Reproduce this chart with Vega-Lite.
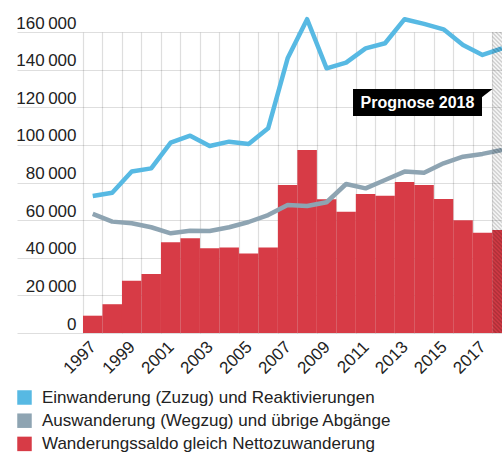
{
  "$schema": "https://vega.github.io/schema/vega-lite/v6.json",
  "width": 419,
  "height": 301,
  "autosize": {"type": "none"},
  "padding": {"left": 83, "top": 32, "right": 0, "bottom": 123},
  "background": "white",
  "config": {
    "view": {"stroke": null},
    "font": "Liberation Sans",
    "axis": {"labelOverlap": false, "title": null, "domain": false, "labelColor": "#222", "labelFontSize": 17, "gridColor": "#000", "gridOpacity": 0.13, "gridWidth": 1.2, "zindex": 1},
    "axisX": {"ticks": false, "labelAngle": -45, "labelAlign": "right", "labelBaseline": "middle", "labelOffset": 10, "labelPadding": 11, "labelFlush": false},
    "axisY": {"ticks": true, "tickSize": 66, "tickColor": "#000", "tickOpacity": 0.13, "tickWidth": 1.2, "labelAlign": "right", "labelBaseline": "alphabetic", "labelPadding": -59, "labelOffset": -4}
  },
  "data": {
    "values": [
      {"Jahr": 1997, "Einwanderung": 72800, "Auswanderung": 63300, "Saldo": 9200},
      {"Jahr": 1998, "Einwanderung": 74600, "Auswanderung": 59200, "Saldo": 15300},
      {"Jahr": 1999, "Einwanderung": 85800, "Auswanderung": 58300, "Saldo": 27800},
      {"Jahr": 2000, "Einwanderung": 87500, "Auswanderung": 56200, "Saldo": 31400},
      {"Jahr": 2001, "Einwanderung": 101200, "Auswanderung": 53000, "Saldo": 48200},
      {"Jahr": 2002, "Einwanderung": 104900, "Auswanderung": 54400, "Saldo": 50300},
      {"Jahr": 2003, "Einwanderung": 99400, "Auswanderung": 54200, "Saldo": 45000},
      {"Jahr": 2004, "Einwanderung": 101700, "Auswanderung": 56200, "Saldo": 45500},
      {"Jahr": 2005, "Einwanderung": 100500, "Auswanderung": 59000, "Saldo": 42200},
      {"Jahr": 2006, "Einwanderung": 108800, "Auswanderung": 62700, "Saldo": 45500},
      {"Jahr": 2007, "Einwanderung": 146000, "Auswanderung": 68000, "Saldo": 78700},
      {"Jahr": 2008, "Einwanderung": 166800, "Auswanderung": 67500, "Saldo": 97300},
      {"Jahr": 2009, "Einwanderung": 140700, "Auswanderung": 69500, "Saldo": 71100},
      {"Jahr": 2010, "Einwanderung": 143700, "Auswanderung": 79200, "Saldo": 64500},
      {"Jahr": 2011, "Einwanderung": 151300, "Auswanderung": 76900, "Saldo": 73900},
      {"Jahr": 2012, "Einwanderung": 154000, "Auswanderung": 81300, "Saldo": 73000},
      {"Jahr": 2013, "Einwanderung": 166800, "Auswanderung": 85800, "Saldo": 80300},
      {"Jahr": 2014, "Einwanderung": 164300, "Auswanderung": 85200, "Saldo": 78700},
      {"Jahr": 2015, "Einwanderung": 161400, "Auswanderung": 90200, "Saldo": 71200},
      {"Jahr": 2016, "Einwanderung": 153100, "Auswanderung": 93700, "Saldo": 59900},
      {"Jahr": 2017, "Einwanderung": 147800, "Auswanderung": 95200, "Saldo": 53300},
      {"Jahr": 2018, "Einwanderung": 151300, "Auswanderung": 97300, "Saldo": 54800}
    ]
  },
  "layer": [
    {
      "mark": {"type": "bar", "width": 19.5, "clip": true},
      "encoding": {
        "x": {
          "field": "Jahr",
          "type": "quantitative",
          "scale": {"domain": [1996.5, 2018], "nice": false, "zero": false, "padding": 0},
          "axis": {
            "values": [1996.5, 1997.5, 1998.5, 1999.5, 2000.5, 2001.5, 2002.5, 2003.5, 2004.5, 2005.5, 2006.5, 2007.5, 2008.5, 2009.5, 2010.5, 2011.5, 2012.5, 2013.5, 2014.5, 2015.5, 2016.5, 2017.5],
            "tickCount": 100,
            "grid": true,
            "labelExpr": "(datum.value + 0.5) % 2 == 1 ? format(datum.value + 0.5, 'd') : ''"
          }
        },
        "y": {
          "field": "Saldo",
          "type": "quantitative",
          "scale": {"domain": [0, 160000], "nice": false, "padding": 0},
          "axis": {
            "values": [0, 20000, 40000, 60000, 80000, 100000, 120000, 140000, 160000],
            "tickCount": 100,
            "grid": true,
            "labelExpr": "replace(format(datum.value, ','), ',', '\u2009')"
          }
        },
        "color": {
          "datum": "Wanderungssaldo gleich Nettozuwanderung",
          "scale": {
            "domain": ["Einwanderung (Zuzug) und Reaktivierungen", "Auswanderung (Wegzug) und übrige Abgänge", "Wanderungssaldo gleich Nettozuwanderung"],
            "range": ["#57b9e3", "#8ea4b2", "#d73b46"]
          },
          "legend": {
            "orient": "none",
            "legendX": -67,
            "legendY": 357,
            "direction": "vertical",
            "title": null,
            "symbolType": "square",
            "symbolSize": 210,
            "symbolStrokeWidth": 0,
            "symbolOpacity": 1,
            "labelFontSize": 17,
            "labelColor": "#222",
            "labelOffset": 9,
            "labelLimit": 0,
            "rowPadding": 5.2,
            "padding": 0
          }
        }
      }
    },
    {
      "mark": {"type": "line", "color": "#8ea4b2", "strokeWidth": 4.5, "strokeJoin": "round"},
      "encoding": {
        "x": {"field": "Jahr", "type": "quantitative"},
        "y": {"field": "Auswanderung", "type": "quantitative"}
      }
    },
    {
      "mark": {"type": "line", "color": "#57b9e3", "strokeWidth": 4.5, "strokeJoin": "round"},
      "encoding": {
        "x": {"field": "Jahr", "type": "quantitative"},
        "y": {"field": "Einwanderung", "type": "quantitative"}
      }
    },
    {
      "data": {"values": [{"Bereich": "Prognose"}]},
      "mark": {
        "type": "rect",
        "clip": true,
        "fill": {
          "gradient": "linear",
          "x1": 0, "y1": 1, "x2": 0.0686, "y2": -0.0603,
          "stops": [
            {"offset": 0, "color": "rgba(0,0,0,.22)"}, {"offset": 0.00625, "color": "rgba(0,0,0,0)"}, {"offset": 0.0125, "color": "rgba(0,0,0,.22)"}, {"offset": 0.01875, "color": "rgba(0,0,0,0)"}, {"offset": 0.025, "color": "rgba(0,0,0,.22)"}, {"offset": 0.03125, "color": "rgba(0,0,0,0)"}, {"offset": 0.0375, "color": "rgba(0,0,0,.22)"}, {"offset": 0.04375, "color": "rgba(0,0,0,0)"},
            {"offset": 0.05, "color": "rgba(0,0,0,.22)"}, {"offset": 0.05625, "color": "rgba(0,0,0,0)"}, {"offset": 0.0625, "color": "rgba(0,0,0,.22)"}, {"offset": 0.06875, "color": "rgba(0,0,0,0)"}, {"offset": 0.075, "color": "rgba(0,0,0,.22)"}, {"offset": 0.08125, "color": "rgba(0,0,0,0)"}, {"offset": 0.0875, "color": "rgba(0,0,0,.22)"}, {"offset": 0.09375, "color": "rgba(0,0,0,0)"},
            {"offset": 0.1, "color": "rgba(0,0,0,.22)"}, {"offset": 0.10625, "color": "rgba(0,0,0,0)"}, {"offset": 0.1125, "color": "rgba(0,0,0,.22)"}, {"offset": 0.11875, "color": "rgba(0,0,0,0)"}, {"offset": 0.125, "color": "rgba(0,0,0,.22)"}, {"offset": 0.13125, "color": "rgba(0,0,0,0)"}, {"offset": 0.1375, "color": "rgba(0,0,0,.22)"}, {"offset": 0.14375, "color": "rgba(0,0,0,0)"},
            {"offset": 0.15, "color": "rgba(0,0,0,.22)"}, {"offset": 0.15625, "color": "rgba(0,0,0,0)"}, {"offset": 0.1625, "color": "rgba(0,0,0,.22)"}, {"offset": 0.16875, "color": "rgba(0,0,0,0)"}, {"offset": 0.175, "color": "rgba(0,0,0,.22)"}, {"offset": 0.18125, "color": "rgba(0,0,0,0)"}, {"offset": 0.1875, "color": "rgba(0,0,0,.22)"}, {"offset": 0.19375, "color": "rgba(0,0,0,0)"},
            {"offset": 0.2, "color": "rgba(0,0,0,.22)"}, {"offset": 0.20625, "color": "rgba(0,0,0,0)"}, {"offset": 0.2125, "color": "rgba(0,0,0,.22)"}, {"offset": 0.21875, "color": "rgba(0,0,0,0)"}, {"offset": 0.225, "color": "rgba(0,0,0,.22)"}, {"offset": 0.23125, "color": "rgba(0,0,0,0)"}, {"offset": 0.2375, "color": "rgba(0,0,0,.22)"}, {"offset": 0.24375, "color": "rgba(0,0,0,0)"},
            {"offset": 0.25, "color": "rgba(0,0,0,.22)"}, {"offset": 0.25625, "color": "rgba(0,0,0,0)"}, {"offset": 0.2625, "color": "rgba(0,0,0,.22)"}, {"offset": 0.26875, "color": "rgba(0,0,0,0)"}, {"offset": 0.275, "color": "rgba(0,0,0,.22)"}, {"offset": 0.28125, "color": "rgba(0,0,0,0)"}, {"offset": 0.2875, "color": "rgba(0,0,0,.22)"}, {"offset": 0.29375, "color": "rgba(0,0,0,0)"},
            {"offset": 0.3, "color": "rgba(0,0,0,.22)"}, {"offset": 0.30625, "color": "rgba(0,0,0,0)"}, {"offset": 0.3125, "color": "rgba(0,0,0,.22)"}, {"offset": 0.31875, "color": "rgba(0,0,0,0)"}, {"offset": 0.325, "color": "rgba(0,0,0,.22)"}, {"offset": 0.33125, "color": "rgba(0,0,0,0)"}, {"offset": 0.3375, "color": "rgba(0,0,0,.22)"}, {"offset": 0.34375, "color": "rgba(0,0,0,0)"},
            {"offset": 0.35, "color": "rgba(0,0,0,.22)"}, {"offset": 0.35625, "color": "rgba(0,0,0,0)"}, {"offset": 0.3625, "color": "rgba(0,0,0,.22)"}, {"offset": 0.36875, "color": "rgba(0,0,0,0)"}, {"offset": 0.375, "color": "rgba(0,0,0,.22)"}, {"offset": 0.38125, "color": "rgba(0,0,0,0)"}, {"offset": 0.3875, "color": "rgba(0,0,0,.22)"}, {"offset": 0.39375, "color": "rgba(0,0,0,0)"},
            {"offset": 0.4, "color": "rgba(0,0,0,.22)"}, {"offset": 0.40625, "color": "rgba(0,0,0,0)"}, {"offset": 0.4125, "color": "rgba(0,0,0,.22)"}, {"offset": 0.41875, "color": "rgba(0,0,0,0)"}, {"offset": 0.425, "color": "rgba(0,0,0,.22)"}, {"offset": 0.43125, "color": "rgba(0,0,0,0)"}, {"offset": 0.4375, "color": "rgba(0,0,0,.22)"}, {"offset": 0.44375, "color": "rgba(0,0,0,0)"},
            {"offset": 0.45, "color": "rgba(0,0,0,.22)"}, {"offset": 0.45625, "color": "rgba(0,0,0,0)"}, {"offset": 0.4625, "color": "rgba(0,0,0,.22)"}, {"offset": 0.46875, "color": "rgba(0,0,0,0)"}, {"offset": 0.475, "color": "rgba(0,0,0,.22)"}, {"offset": 0.48125, "color": "rgba(0,0,0,0)"}, {"offset": 0.4875, "color": "rgba(0,0,0,.22)"}, {"offset": 0.49375, "color": "rgba(0,0,0,0)"},
            {"offset": 0.5, "color": "rgba(0,0,0,.22)"}, {"offset": 0.50625, "color": "rgba(0,0,0,0)"}, {"offset": 0.5125, "color": "rgba(0,0,0,.22)"}, {"offset": 0.51875, "color": "rgba(0,0,0,0)"}, {"offset": 0.525, "color": "rgba(0,0,0,.22)"}, {"offset": 0.53125, "color": "rgba(0,0,0,0)"}, {"offset": 0.5375, "color": "rgba(0,0,0,.22)"}, {"offset": 0.54375, "color": "rgba(0,0,0,0)"},
            {"offset": 0.55, "color": "rgba(0,0,0,.22)"}, {"offset": 0.55625, "color": "rgba(0,0,0,0)"}, {"offset": 0.5625, "color": "rgba(0,0,0,.22)"}, {"offset": 0.56875, "color": "rgba(0,0,0,0)"}, {"offset": 0.575, "color": "rgba(0,0,0,.22)"}, {"offset": 0.58125, "color": "rgba(0,0,0,0)"}, {"offset": 0.5875, "color": "rgba(0,0,0,.22)"}, {"offset": 0.59375, "color": "rgba(0,0,0,0)"},
            {"offset": 0.6, "color": "rgba(0,0,0,.22)"}, {"offset": 0.60625, "color": "rgba(0,0,0,0)"}, {"offset": 0.6125, "color": "rgba(0,0,0,.22)"}, {"offset": 0.61875, "color": "rgba(0,0,0,0)"}, {"offset": 0.625, "color": "rgba(0,0,0,.22)"}, {"offset": 0.63125, "color": "rgba(0,0,0,0)"}, {"offset": 0.6375, "color": "rgba(0,0,0,.22)"}, {"offset": 0.64375, "color": "rgba(0,0,0,0)"},
            {"offset": 0.65, "color": "rgba(0,0,0,.22)"}, {"offset": 0.65625, "color": "rgba(0,0,0,0)"}, {"offset": 0.6625, "color": "rgba(0,0,0,.22)"}, {"offset": 0.66875, "color": "rgba(0,0,0,0)"}, {"offset": 0.675, "color": "rgba(0,0,0,.22)"}, {"offset": 0.68125, "color": "rgba(0,0,0,0)"}, {"offset": 0.6875, "color": "rgba(0,0,0,.22)"}, {"offset": 0.69375, "color": "rgba(0,0,0,0)"},
            {"offset": 0.7, "color": "rgba(0,0,0,.22)"}, {"offset": 0.70625, "color": "rgba(0,0,0,0)"}, {"offset": 0.7125, "color": "rgba(0,0,0,.22)"}, {"offset": 0.71875, "color": "rgba(0,0,0,0)"}, {"offset": 0.725, "color": "rgba(0,0,0,.22)"}, {"offset": 0.73125, "color": "rgba(0,0,0,0)"}, {"offset": 0.7375, "color": "rgba(0,0,0,.22)"}, {"offset": 0.74375, "color": "rgba(0,0,0,0)"},
            {"offset": 0.75, "color": "rgba(0,0,0,.22)"}, {"offset": 0.75625, "color": "rgba(0,0,0,0)"}, {"offset": 0.7625, "color": "rgba(0,0,0,.22)"}, {"offset": 0.76875, "color": "rgba(0,0,0,0)"}, {"offset": 0.775, "color": "rgba(0,0,0,.22)"}, {"offset": 0.78125, "color": "rgba(0,0,0,0)"}, {"offset": 0.7875, "color": "rgba(0,0,0,.22)"}, {"offset": 0.79375, "color": "rgba(0,0,0,0)"},
            {"offset": 0.8, "color": "rgba(0,0,0,.22)"}, {"offset": 0.80625, "color": "rgba(0,0,0,0)"}, {"offset": 0.8125, "color": "rgba(0,0,0,.22)"}, {"offset": 0.81875, "color": "rgba(0,0,0,0)"}, {"offset": 0.825, "color": "rgba(0,0,0,.22)"}, {"offset": 0.83125, "color": "rgba(0,0,0,0)"}, {"offset": 0.8375, "color": "rgba(0,0,0,.22)"}, {"offset": 0.84375, "color": "rgba(0,0,0,0)"},
            {"offset": 0.85, "color": "rgba(0,0,0,.22)"}, {"offset": 0.85625, "color": "rgba(0,0,0,0)"}, {"offset": 0.8625, "color": "rgba(0,0,0,.22)"}, {"offset": 0.86875, "color": "rgba(0,0,0,0)"}, {"offset": 0.875, "color": "rgba(0,0,0,.22)"}, {"offset": 0.88125, "color": "rgba(0,0,0,0)"}, {"offset": 0.8875, "color": "rgba(0,0,0,.22)"}, {"offset": 0.89375, "color": "rgba(0,0,0,0)"},
            {"offset": 0.9, "color": "rgba(0,0,0,.22)"}, {"offset": 0.90625, "color": "rgba(0,0,0,0)"}, {"offset": 0.9125, "color": "rgba(0,0,0,.22)"}, {"offset": 0.91875, "color": "rgba(0,0,0,0)"}, {"offset": 0.925, "color": "rgba(0,0,0,.22)"}, {"offset": 0.93125, "color": "rgba(0,0,0,0)"}, {"offset": 0.9375, "color": "rgba(0,0,0,.22)"}, {"offset": 0.94375, "color": "rgba(0,0,0,0)"},
            {"offset": 0.95, "color": "rgba(0,0,0,.22)"}, {"offset": 0.95625, "color": "rgba(0,0,0,0)"}, {"offset": 0.9625, "color": "rgba(0,0,0,.22)"}, {"offset": 0.96875, "color": "rgba(0,0,0,0)"}, {"offset": 0.975, "color": "rgba(0,0,0,.22)"}, {"offset": 0.98125, "color": "rgba(0,0,0,0)"}, {"offset": 0.9875, "color": "rgba(0,0,0,.22)"}, {"offset": 0.99375, "color": "rgba(0,0,0,0)"},
            {"offset": 1, "color": "rgba(0,0,0,.22)"}
          ]
        }
      },
      "encoding": {
        "x": {"datum": 2017.5, "type": "quantitative"},
        "x2": {"datum": 2018.5},
        "y": {"datum": 0, "type": "quantitative"},
        "y2": {"datum": 160000}
      }
    },
    {
      "data": {"values": [{"Label": "Prognose 2018"}]},
      "layer": [
        {
          "mark": {"type": "rect", "color": "#000"},
          "encoding": {
            "x": {"datum": 2010.355, "type": "quantitative"},
            "x2": {"datum": 2016.974},
            "y": {"datum": 129700, "type": "quantitative"},
            "y2": {"datum": 115350}
          }
        },
        {
          "mark": {"type": "point", "shape": "M0,0L1,0L0,0.77Z", "size": 484, "filled": true, "color": "#000", "opacity": 1, "strokeWidth": 0},
          "encoding": {
            "x": {"datum": 2016.95, "type": "quantitative"},
            "y": {"datum": 129700, "type": "quantitative"}
          }
        },
        {
          "mark": {"type": "text", "color": "#fff", "fontWeight": "bold", "fontSize": 16, "align": "center", "baseline": "middle"},
          "encoding": {
            "x": {"datum": 2013.66, "type": "quantitative"},
            "y": {"datum": 122300, "type": "quantitative"},
            "text": {"field": "Label"}
          }
        }
      ]
    }
  ]
}
